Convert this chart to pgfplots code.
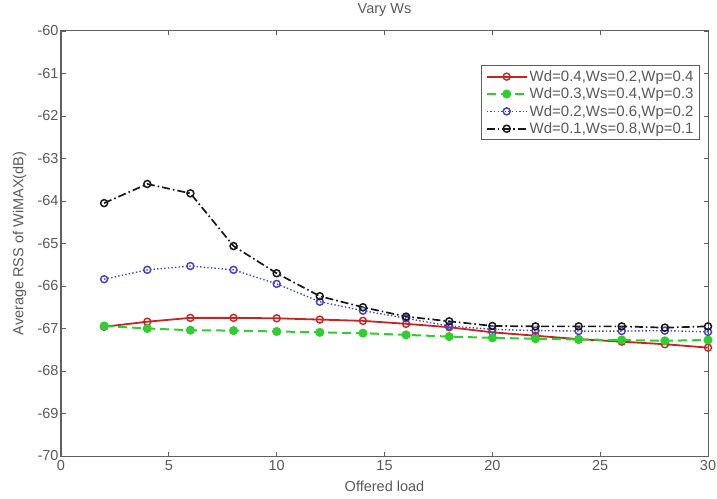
\documentclass[border=0pt]{standalone}
\usepackage{fontspec}
\setmainfont{Liberation Sans}
\usepackage{pgfplots}
\pgfplotsset{compat=1.18}

\definecolor{axgray}{RGB}{95,95,95}
\definecolor{txtgray}{RGB}{90,90,90}
\definecolor{sred}{RGB}{200,35,35}
\definecolor{sgreen}{RGB}{50,205,50}
\definecolor{sblue}{RGB}{70,70,190}
\definecolor{sblack}{RGB}{25,25,25}

\begin{document}
\begin{tikzpicture}[x=1pt,y=1pt]
\begin{axis}[
  name=ax,
  scale only axis,
  width=647pt, height=425pt,
  xmin=0, xmax=30, ymin=-70, ymax=-60,
  xtick={0,5,...,30},
  ytick={-70,-69,...,-60},
  tick align=inside,
  major tick length=4.5pt,
  axis line style={axgray, line width=1pt},
  tick style={axgray, line width=0.8pt},
  font=\fontsize{14.5}{16}\selectfont,
  /pgf/number format/assume math mode=true,
  ticklabel style={text=txtgray},
  xticklabel style={yshift=-1pt},
  yticklabel style={xshift=1pt},
  title={Vary Ws},
  title style={text=txtgray, at={(axis description cs:0.5,1)}, anchor=base, yshift=11pt},
  xlabel={Offered load},
  xlabel style={text=txtgray, at={(axis description cs:0.5,0)}, anchor=base, yshift=-35pt},
  ylabel={Average RSS of WiMAX(dB)},
  ylabel style={text=txtgray, at={(axis description cs:-0.064,0.5)}, anchor=center},
  legend style={
    at={(rel axis cs:0.9876,0.92)}, anchor=north east,
    draw=axgray, line width=0.9pt, fill=white,
    font=\fontsize{15}{17}\selectfont, text=txtgray,
    row sep=1pt, inner xsep=4pt, inner ysep=3pt,
  },
  legend cell align=left,
  legend image code/.code={
    \draw[mark repeat=2,mark phase=2] plot coordinates {(0pt,0pt) (20pt,0pt) (40pt,0pt)};
  },
]
% Wd=0.4, Ws=0.2, Wp=0.4
\addplot[sred, line width=1.8pt, mark=o, mark size=3.5pt, mark options={solid, line width=1.4pt}]
  coordinates {(2,-66.96) (4,-66.84) (6,-66.75) (8,-66.75) (10,-66.76) (12,-66.79)
  (14,-66.82) (16,-66.89) (18,-66.97) (20,-67.09) (22,-67.17) (24,-67.25)
  (26,-67.31) (28,-67.37) (30,-67.45)};
\addlegendentry{Wd=0.4,Ws=0.2,Wp=0.4}
% Wd=0.3, Ws=0.4, Wp=0.3
\addplot[sgreen, line width=2pt, dash pattern=on 9pt off 5pt, mark=*, mark size=3.5pt, mark options={solid, fill=sgreen}]
  coordinates {(2,-66.94) (4,-67.00) (6,-67.04) (8,-67.05) (10,-67.07) (12,-67.09)
  (14,-67.11) (16,-67.15) (18,-67.19) (20,-67.22) (22,-67.24) (24,-67.26)
  (26,-67.27) (28,-67.29) (30,-67.27)};
\addlegendentry{Wd=0.3,Ws=0.4,Wp=0.3}
% Wd=0.2, Ws=0.6, Wp=0.2
\addplot[sblue, line width=1.4pt, dash pattern=on 1.4pt off 2.2pt, mark=o, mark size=3.5pt, mark options={solid, line width=1.5pt}]
  coordinates {(2,-65.84) (4,-65.62) (6,-65.53) (8,-65.62) (10,-65.95) (12,-66.37)
  (14,-66.58) (16,-66.76) (18,-66.94) (20,-67.02) (22,-67.05) (24,-67.06)
  (26,-67.06) (28,-67.05) (30,-67.08)};
\addlegendentry{Wd=0.2,Ws=0.6,Wp=0.2}
% Wd=0.1, Ws=0.8, Wp=0.1
\addplot[sblack, line width=1.7pt, dash pattern=on 8pt off 3pt on 1.6pt off 3pt, mark=o, mark size=3.5pt, mark options={solid, line width=1.5pt, fill=white}]
  coordinates {(2,-64.05) (4,-63.60) (6,-63.82) (8,-65.06) (10,-65.70) (12,-66.24)
  (14,-66.50) (16,-66.72) (18,-66.83) (20,-66.94) (22,-66.95) (24,-66.95)
  (26,-66.95) (28,-66.98) (30,-66.95)};
\addlegendentry{Wd=0.1,Ws=0.8,Wp=0.1}
\end{axis}
\pgfresetboundingbox
\useasboundingbox ([shift={(-61pt,-42pt)}]ax.south west) rectangle ([shift={(9pt,31pt)}]ax.north east);
\end{tikzpicture}
\end{document}
